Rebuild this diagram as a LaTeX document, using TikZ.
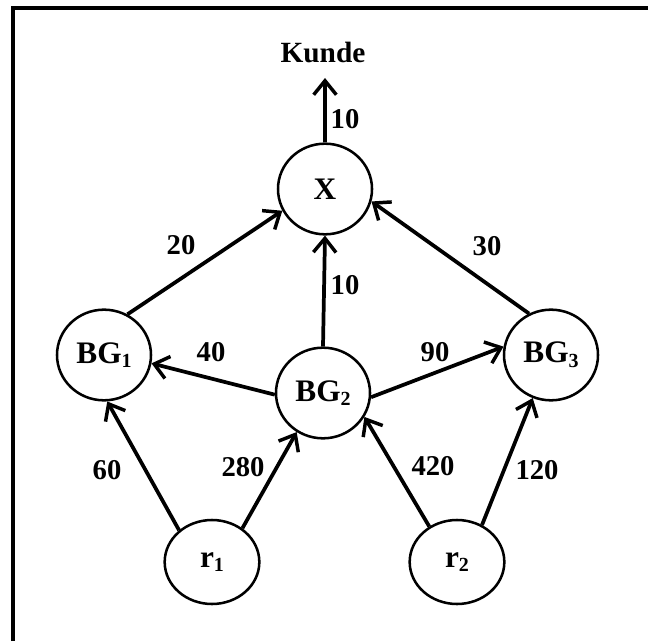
\documentclass[tikz,border=0pt]{standalone}
\usepackage{fontspec}
\setmainfont{Liberation Serif}
\usetikzlibrary{arrows.meta,shapes.geometric}
\newcommand{\lowsub}[1]{{\fontsize{15}{15}\selectfont\raisebox{-3.5pt}{#1}}}
\tikzset{
  vertex/.style={ellipse, draw, line width=1.9pt, minimum width=70.5pt, minimum height=68pt, inner sep=0pt,
    font=\fontsize{23.5}{23.5}\selectfont\bfseries},
  flow/.style={line width=2.8pt, -{Straight Barb[length=10.5pt, width=17pt, line width=2.6pt]}},
  weight/.style={font=\fontsize{21.5}{21.5}\selectfont\bfseries, inner sep=0pt},
}
\begin{document}
\begin{tikzpicture}[x=0.75pt, y=-0.75pt]
\useasboundingbox (0,0) rectangle (648,641);
% open frame: left and top edges only
\draw[line width=3pt] (13,641) -- (13,8.5) -- (648,8.5);

% nodes
\node[vertex] (X) at (325,189) {X};
\node[vertex] (BG1) at (104,355) {BG\lowsub{1}};
\node[vertex] (BG2) at (323,393) {BG\lowsub{2}};
\node[vertex] (BG3) at (551,355) {BG\lowsub{3}};
\node[vertex, minimum height=63pt, minimum width=71pt] (r1) at (212,562) {r\lowsub{1}};
\node[vertex, minimum height=63pt, minimum width=71pt] (r2) at (457,562) {r\lowsub{2}};
\node[font=\fontsize{22}{22}\selectfont\bfseries, inner sep=0pt] (kunde) at (323,53) {Kunde};
\coordinate (out) at (325,78);

% flows
\draw[flow] (X.north) -- (out);
\draw[flow] (BG1.60) -- (X.207);
\draw[flow] (BG3.118) -- (X.345);
\draw[flow] (BG2.north) -- (X.south);
\draw[flow] (BG2.182) -- (BG1.-10);
\draw[flow] (BG2.-5) -- (BG3.170);
\draw[flow] (r1.136) -- (BG1.-86);
\draw[flow] (r1.48) -- (BG2.-124);
\draw[flow] (r2.128) -- (BG2.-30);
\draw[flow] (r2.56) -- (BG3.-113);

% weights
\node[weight] (w0) at (345,119) {10};
\node[weight] (w1) at (181,245) {20};
\node[weight] (w2) at (487,246) {30};
\node[weight] (w3) at (345,285) {10};
\node[weight] (w4) at (211,352) {40};
\node[weight] (w5) at (435,352) {90};
\node[weight] (w6) at (107,470) {60};
\node[weight] (w7) at (243,467) {280};
\node[weight] (w8) at (433,466) {420};
\node[weight] (w9) at (537,470) {120};
\end{tikzpicture}
\end{document}
